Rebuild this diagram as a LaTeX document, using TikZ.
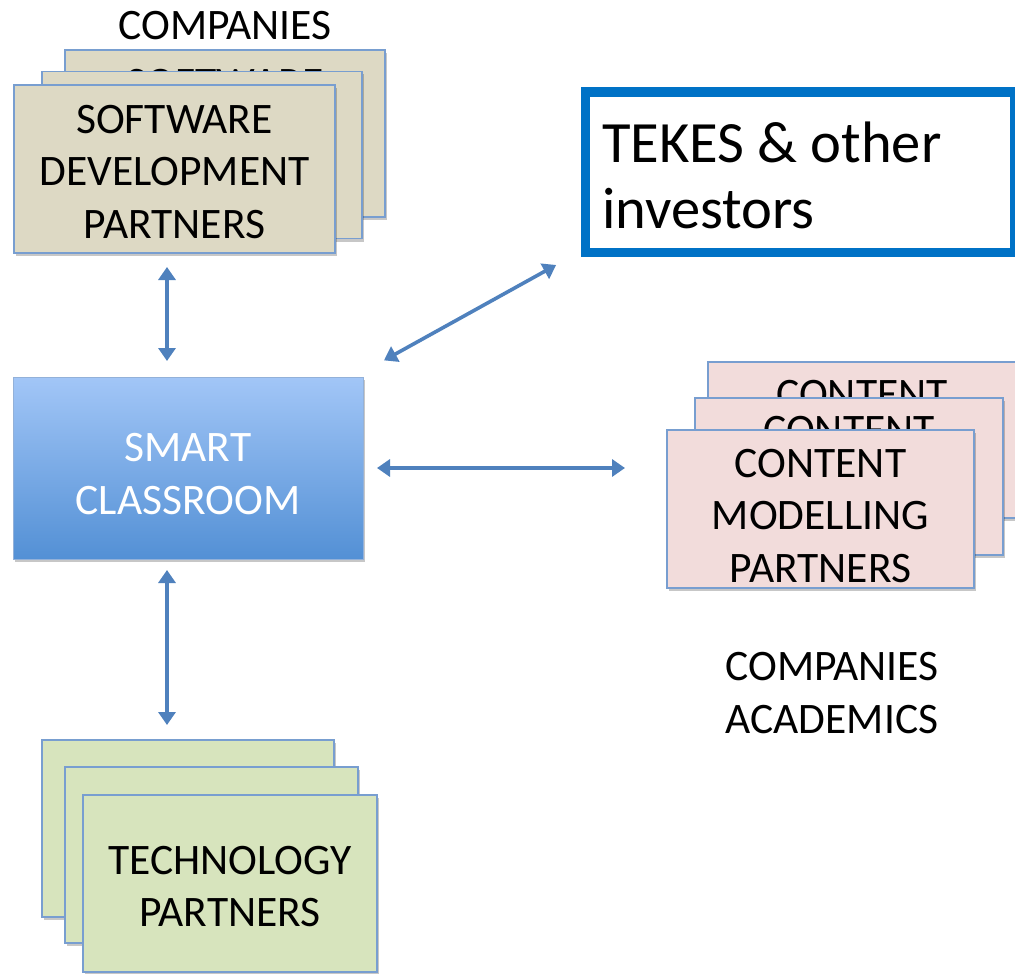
\documentclass[tikz,border=0pt]{standalone}
\usepackage{fontspec}
\setmainfont{Carlito}
\usetikzlibrary{arrows.meta,shadows,calc}
\definecolor{swfill}{RGB}{221,217,196}
\definecolor{cmfill}{RGB}{242,220,219}
\definecolor{tcfill}{RGB}{215,228,189}
\definecolor{edgeblue}{RGB}{120,158,208}
\definecolor{arrowblue}{RGB}{79,129,189}
\definecolor{tekesblue}{RGB}{0,114,198}
\definecolor{smarttop}{RGB}{162,198,247}
\definecolor{smartbot}{RGB}{83,144,213}
\tikzset{
  card/.style={draw=edgeblue, line width=1.8pt, inner sep=0pt, outer sep=0pt,
    drop shadow={shadow xshift=1.5pt, shadow yshift=-3pt, opacity=0.22, fill=black}},
  swcard/.style={card, fill=swfill, minimum width=320pt, minimum height=167pt},
  cmcard/.style={card, fill=cmfill, minimum width=308pt, minimum height=157pt},
  tccard/.style={card, fill=tcfill, minimum width=293pt, minimum height=177pt},
  lbl/.style={align=center, inner sep=0pt, font=\fontsize{43.5}{52.5}\selectfont},
  link/.style={draw=arrowblue, line width=3.6pt,
    {Triangle[length=13pt,width=17pt]}-{Triangle[length=13pt,width=17pt]}}
}
\begin{document}
\begin{tikzpicture}[x=1pt,y=-1pt]
\useasboundingbox (0,0) rectangle (1015,974);
\fill[white] (0,0) rectangle (1015,974);

% software development stack
\node[lbl] (swlabel) at (225,25.5) {COMPANIES};
\node[swcard] (sw1) at (225,133.5) {};
\node[lbl] (sw1t) at ($(sw1.center)+(0,3)$) {SOFTWARE\\DEVELOPMENT\\PARTNERS};
\node[swcard] (sw2) at (202,155) {};
\node[lbl] (sw2t) at ($(sw2.center)+(0,3)$) {SOFTWARE\\DEVELOPMENT\\PARTNERS};
\node[swcard, minimum width=321pt, minimum height=168pt] (sw3) at (174.5,169) {};
\node[lbl] (sw3t) at ($(sw3.center)+(0,3)$) {SOFTWARE\\DEVELOPMENT\\PARTNERS};

% TEKES
\node[draw=tekesblue, line width=9pt, fill=white, outer sep=0pt, inner sep=0pt,
  minimum width=429pt, minimum height=160pt] (tekes) at (799.5,172) {};
\node[anchor=west, align=left, inner sep=0pt, font=\fontsize{58.5}{66}\selectfont]
  (tekest) at ($(tekes.west)+(17,3)$) {TEKES \& other\\investors};

% smart classroom
\node[draw=edgeblue!80!white, line width=1pt, top color=smarttop, bottom color=smartbot,
  minimum width=350pt, minimum height=182pt, inner sep=0pt, outer sep=0pt,
  drop shadow={shadow xshift=1.5pt, shadow yshift=-3pt, opacity=0.22, fill=black}] (smart) at (188,468) {};
\node[lbl, text=white] (smartt) at ($(smart.center)+(0,6)$) {SMART\\CLASSROOM};

% content modelling stack
\node[cmcard, minimum height=156pt] (cm1) at (862,440) {};
\node[lbl] (cm1t) at ($(cm1.center)+(0,7)$) {CONTENT\\MODELLING\\PARTNERS};
\node[cmcard] (cm2) at (849,476.5) {};
\node[lbl] (cm2t) at ($(cm2.center)+(0,7)$) {CONTENT\\MODELLING\\PARTNERS};
\node[cmcard, minimum width=307pt, minimum height=158pt] (cm3) at (820.5,509) {};
\node[lbl] (cm3t) at ($(cm3.center)+(0,7)$) {CONTENT\\MODELLING\\PARTNERS};
\node[lbl] (cmlabel) at (832,693) {COMPANIES\\ACADEMICS};

% technology stack
\node[tccard, minimum width=292pt] (tc1) at (188,828.5) {};
\node[lbl] (tc1t) at ($(tc1.center)+(0,3)$) {TECHNOLOGY\\PARTNERS};
\node[tccard, minimum height=176pt] (tc2) at (211.5,855) {};
\node[lbl] (tc2t) at ($(tc2.center)+(0,3)$) {TECHNOLOGY\\PARTNERS};
\node[tccard, minimum width=294pt] (tc3) at (230,883.5) {};
\node[lbl] (tc3t) at ($(tc3.center)+(0,3)$) {TECHNOLOGY\\PARTNERS};

% connectors
\draw[link, shorten <=14pt, shorten >=16pt] ($(sw3.south)+(-7.5,0)$) -- ($(smart.north)+(-21,0)$);
\draw[link, shorten <=11pt, shorten >=15pt] ($(smart.south)+(-21,0)$) -- ($(tc1.north)+(-21,0)$);
\draw[link, shorten <=14pt, shorten >=42pt] (smart.east) -- (smart.east -| cm3.west);
\draw[link, shorten <=24pt, shorten >=33pt] ($(smart.north east)+(0,-5)$) -- ($(tekes.south west)+(0,-3)$);
\end{tikzpicture}
\end{document}
